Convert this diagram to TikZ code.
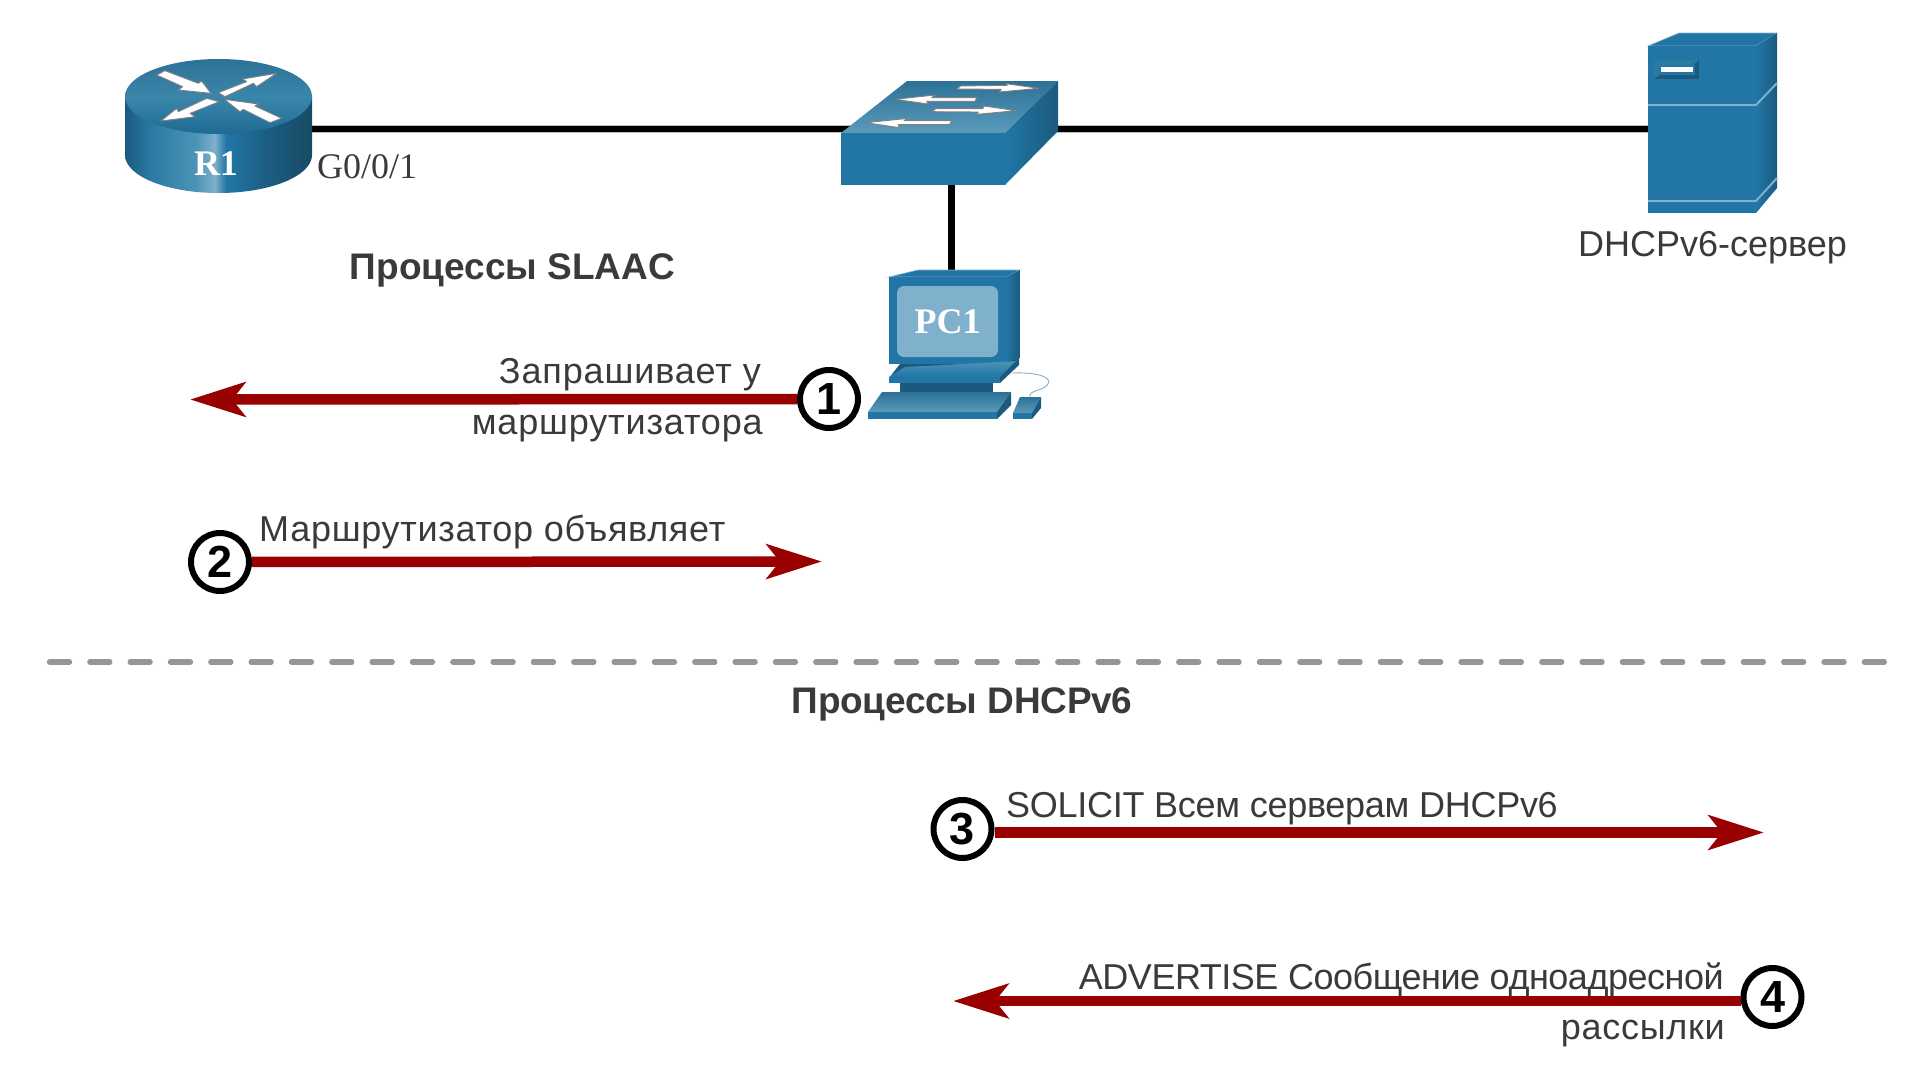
\documentclass[tikz,border=0pt]{standalone}
\usepackage{fontspec}
\setmainfont{Liberation Sans}
\newfontfamily\serifface{Liberation Serif}
\usetikzlibrary{arrows.meta,shapes.geometric}
\definecolor{txt}{HTML}{3A3A3A}
\definecolor{devfront}{HTML}{2176A6}
\definecolor{devdark}{HTML}{1B5A7E}
\definecolor{devlight}{HTML}{7FB0CC}
\definecolor{arrowred}{HTML}{990000}
\definecolor{HTMLa}{HTML}{2A7BA4}
\definecolor{HTMLb}{HTML}{4D93B6}
\definecolor{HTMLc}{HTML}{1C5F84}
\definecolor{HTMLd}{HTML}{174A64}
\definecolor{HTMLe}{HTML}{2D7196}
\definecolor{HTMLf}{HTML}{5A9BBB}
\definecolor{HTMLg}{HTML}{3A86AB}
\definecolor{HTMLh}{HTML}{1E6A94}
\pgfdeclarehorizontalshading{routerside}{100bp}{color(0bp)=(devdark);color(25bp)=(devdark);color(32bp)=(HTMLa);color(44bp)=(HTMLb);color(49bp)=(devlight);color(52bp)=(devfront);color(62bp)=(HTMLc);color(75bp)=(HTMLd);color(100bp)=(HTMLd)}
\newcommand{\track}[1]{\addfontfeature{LetterSpace=#1}}
\tikzset{
 lbl/.style={text=txt,font=\fontsize{36}{40}\selectfont,inner sep=0pt},
 headline/.style={text=txt,font=\fontsize{37}{40}\selectfont\bfseries,inner sep=0pt},
 devlabel/.style={text=white,font=\fontsize{36}{38}\selectfont\serifface\bfseries,inner sep=0pt},
 link/.style={line width=6.5,draw=black,preaction={draw=lightgray,line width=8}},
 msg/.style={line width=10.5,draw=arrowred,-{Stealth[length=55,width=34,inset=13]}},
 badge/.style={circle,draw=black,fill=white,line width=6,minimum size=58,inner sep=0pt,font=\fontsize{45}{45}\selectfont\bfseries},
 harrow/.style={fill=white,draw=gray,line width=.9,line join=round},
 front/.style={fill=devfront},
 zoomA/.style={shift={(100,30)},x=.33333pt,y=-.33333pt},
 zoomB/.style={shift={(800,60)},x=.33333pt,y=-.33333pt},
}
\begin{document}
\begin{tikzpicture}[x=1pt,y=-1pt]
\useasboundingbox (0,0) rectangle (1920,1066);
% anchors of the connectors
\coordinate (r1port) at (300,129);
\coordinate (swleft) at (860,129);
\coordinate (swright) at (1040,129);
\coordinate (swbottom) at (951,180);
\coordinate (srvport) at (1650,129);
\coordinate (pctop) at (951,272);
\draw[link] (r1port) -- (swleft);
\draw[link] (swright) -- (srvport);
\draw[line width=7] (swbottom) -- (pctop);
% router
\path[shading=routerside] (125,97) -- (125,155) arc[start angle=180,end angle=0,x radius=93.5,y radius=38] -- (312,97) -- cycle;
\shade[shading angle=20,top color=HTMLe,bottom color=HTMLh,middle color=HTMLg] (218.5,96.5) ellipse[x radius=93.5,y radius=37.5];
\begin{scope}[zoomA]
\draw[harrow] (195,122)--(295,160)--(305,153)--(333,190)--(235,180)--(248,170)--(170,135)--cycle;
\draw[harrow] (355,188)--(440,155)--(428,147)--(530,130)--(470,170)--(460,160)--(375,200)--cycle;
\draw[harrow] (320,205)--(358,215)--(270,250)--(285,260)--(183,273)--(230,235)--(235,245)--cycle;
\draw[harrow] (545,265)--(465,228)--(475,222)--(373,208)--(420,245)--(430,238)--(510,278)--cycle;
\end{scope}
\node[devlabel,anchor=base] (r1) at (216,175) {R1};
\node[anchor=base west,inner sep=0pt,text=txt,font=\fontsize{36}{38}\selectfont\serifface] (g001) at (317,178) {G0/0/1};
% switch
\shade[top color=HTMLe,bottom color=HTMLf] (841,133)--(1005,133)--(1058,81)--(907,81)--cycle;
\fill[front] (841,133) rectangle (1005,185);
\shade[left color=devfront,right color=devdark] (1005,133)--(1058,81)--(1058,131)--(1005,185)--cycle;
\begin{scope}[zoomB]
\draw[harrow] (470,87)--(482,78)--(622,76)--(618,71)--(716,85)--(598,96)--(604,88)--cycle;
\draw[harrow] (285,118)--(405,105)--(395,113)--(530,113)--(525,124)--(380,124)--(385,132)--cycle;
\draw[harrow] (395,155)--(408,146)--(548,146)--(552,138)--(648,152)--(530,163)--(535,156)--cycle;
\draw[harrow] (197,188)--(325,175)--(312,182)--(455,182)--(448,194)--(295,194)--(298,203)--cycle;
\end{scope}
% PC
\draw[devlight,line width=.9] (1012,373) .. controls (1040,372) and (1052,378) .. (1048,384) .. controls (1044,391) and (1028,390) .. (1030,397);
\fill[devfront,draw=devlight,line width=.6] (889,277)--(918,270)--(1020,270)--(1006,277)--cycle;
\shade[left color=devfront,right color=devdark] (1006,277)--(1020,270)--(1020,358)--(1006,364)--cycle;
\fill[front] (889,277) rectangle (1006,364);
\fill[devlight,rounded corners=7] (897,286) rectangle (998,357);
\node[devlabel,anchor=base] (pc1) at (947.5,333.5) {PC1};
\fill[devdark] (900,364)--(1002,364)--(1019,358)--(1000,378)--(889,378)--cycle;
\shade[top color=HTMLb,bottom color=devfront] (905,367)--(1019,361)--(1000,377)--(889,377)--cycle;
\fill[front] (889,377) rectangle (1000,383);
\fill[devdark] (1000,377)--(1019,358)--(1019,365)--(1000,383)--cycle;
\fill[devdark] (900,383) rectangle (993,392);
\shade[top color=HTMLe,bottom color=HTMLf] (868,412)--(882,392)--(1011,392)--(997,412)--cycle;
\fill[front] (868,412) rectangle (997,419);
\fill[devdark] (997,412)--(1011,392)--(1011,405)--(997,419)--cycle;
\shade[top color=HTMLe,bottom color=HTMLf] (1013,413)--(1020,397)--(1041,397)--(1032,413)--cycle;
\fill[front] (1013,413) rectangle (1032,419);
\fill[devdark] (1032,413)--(1041,397)--(1041,408)--(1032,419)--cycle;
% server
\fill[devfront,draw=devlight,line width=.6] (1648,46)--(1679,33)--(1777,33)--(1756,46)--cycle;
\fill[front] (1648,46) rectangle (1756,213);
\shade[left color=devfront,right color=devdark] (1756,46)--(1777,33)--(1777,188)--(1756,213)--cycle;
\draw[devlight,line width=2] (1648,105)--(1756,105)--(1777,83);
\draw[devlight,line width=2] (1648,201)--(1756,201)--(1777,178);
\fill[devdark] (1654,60) rectangle (1699,79);
\fill[HTMLa] (1654,60)--(1699,60)--(1693,65)--(1661,65)--(1661,74)--(1654,79)--cycle;
\fill[devfront] (1659,65) rectangle (1695,75);
\fill[white] (1661,67) rectangle (1693,72);
% labels
\node[lbl,anchor=base] (srv) at (1712.5,256) {DHCPv6-сервер};
\node[headline,anchor=base] (h1) at (512.5,279) {Процессы SLAAC};
\node[headline,anchor=base] (h2) at (962,713) {\track{-0.6}Процессы DHCPv6};
% divider
\coordinate (divl) at (49.5,662);
\coordinate (divr) at (1885,662);
\draw[draw=black!41,line width=5.3,line cap=round,dash pattern=on 20 off 20.33] (divl) -- (divr);
% messages
\node[badge] (n1) at (829,399) {1};
\coordinate (e1) at (190,399.5);
\draw[msg] (n1) -- (e1);
\node[lbl,anchor=base east] (t1a) at (761,383) {\track{2.4}Запрашивает у};
\node[lbl,anchor=base east] (t1b) at (763,434) {\track{2.4}маршрутизатора};
\node[badge] (n2) at (220,562) {2};
\coordinate (e2) at (822,561.5);
\draw[msg] (n2) -- (e2);
\node[lbl,anchor=base west] (t2) at (259,541) {\track{2}Маршрутизатор объявляет};
\node[badge] (n3) at (962.5,829) {3};
\coordinate (e3) at (1764,832.5);
\draw[msg] (n3.east |- e3) -- (e3);
\node[lbl,anchor=base west] (t3) at (1006,817) {\track{-0.8}SOLICIT Всем серверам DHCPv6};
\node[badge] (n4) at (1772.5,997) {4};
\coordinate (e4) at (953,1001);
\draw[msg] (n4.west |- e4) -- (e4);
\node[lbl,anchor=base east] (t4a) at (1724,989) {\track{-1.3}ADVERTISE Сообщение одноадресной};
\node[lbl,anchor=base east] (t4b) at (1725,1039) {\track{2}рассылки};
\end{tikzpicture}
\end{document}
